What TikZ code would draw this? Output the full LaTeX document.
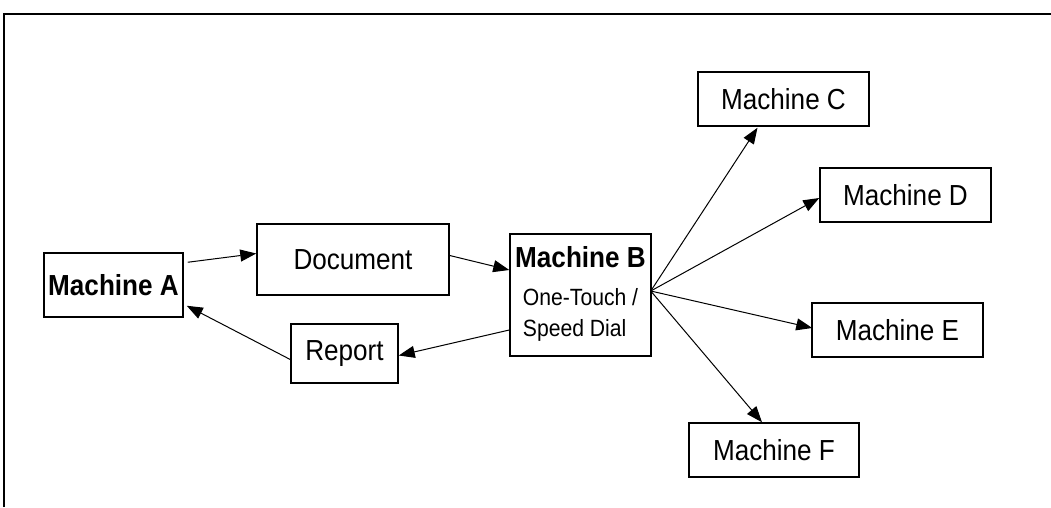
\documentclass[tikz,border=0pt]{standalone}
\usepackage{fontspec}
\setmainfont{Liberation Sans}[FakeStretch=0.9]
\usetikzlibrary{arrows.meta}
\newcommand{\subfont}{\fontsize{23.5}{28}\selectfont}
\begin{document}
\begin{tikzpicture}[x=1pt,y=-1pt,
  box/.style={draw, line width=1.5pt, rectangle, inner sep=0pt,
    font=\fontsize{29}{36}\selectfont},
  flow/.style={line width=1pt, -{Triangle[length=16pt,width=12pt]}}]
\useasboundingbox (0,0) rectangle (1051,507);
% outer frame: top and left edges only
\draw[line width=2pt] (3.5,507) -- (3.5,13.5) -- (1051,13.5);

% boxes
\node[box, minimum width=139, minimum height=64] (A) at (113.5,285) {\bfseries Machine A};
\node[box, minimum width=192, minimum height=71] (Doc) at (353,259.5) {Document};
\node[box, minimum width=107, minimum height=59] (R) at (344.5,353.5) {Report};
\node[box, minimum width=141, minimum height=122] (B) at (580.5,295) {%
  \begin{tabular}{@{}c@{}}
  \bfseries Machine B\\[2pt]
  \subfont One-Touch /\\[-5pt]
  \subfont\rlap{Speed Dial}\phantom{One-Touch /}
  \end{tabular}};
\node[box, minimum width=171, minimum height=54] (C) at (783.5,99) {Machine C};
\node[box, minimum width=171, minimum height=54] (D) at (905.5,195) {Machine D};
\node[box, minimum width=171, minimum height=54] (E) at (897.5,330) {Machine E};
\node[box, minimum width=170, minimum height=54] (F) at (774,450) {Machine F};

% fan-out point on the right of Machine B
\coordinate (hub) at ([shift={(-1,-4)}]B.east);

% connectors
\draw[flow] ([shift={(4,10)}]A.north east) -- ([shift={(0,-6)}]Doc.west);
\draw[flow] ([shift={(0,-4)}]Doc.east) -- ([shift={(0,-25)}]B.west);
\draw[flow] ([shift={(0,35)}]B.west) -- ([shift={(0,2)}]R.east);
\draw[flow] ([shift={(0,6)}]R.west) -- ([shift={(3,-12)}]A.south east);
\draw[flow] (hub) -- ([shift={(-26,1)}]C.south);
\draw[flow] (hub) -- ([shift={(0,3)}]D.west);
\draw[flow] (hub) -- ([shift={(1,-2)}]E.west);
\draw[flow] (hub) -- ([shift={(-12,0)}]F.north);
\end{tikzpicture}
\end{document}
